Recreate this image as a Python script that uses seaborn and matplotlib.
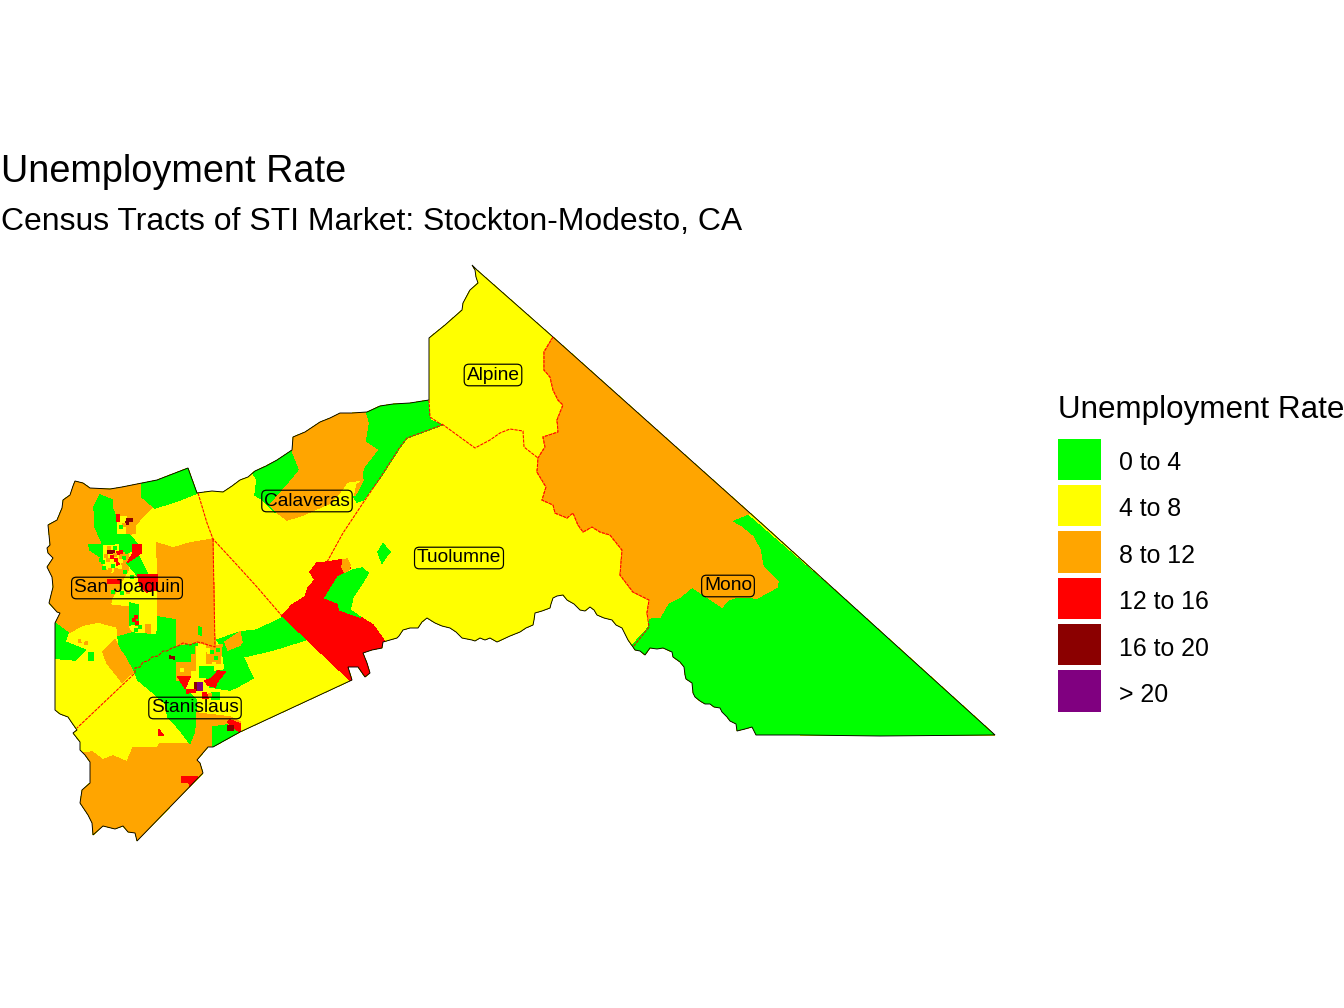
import numpy as np
import pandas as pd
import seaborn as sns
import matplotlib
matplotlib.use("Agg")
import matplotlib.pyplot as plt
from matplotlib.colors import ListedColormap
from matplotlib.patches import Polygon
from matplotlib.transforms import ScaledTranslation

# classes of the rate
rate_labels = ["0 to 4", "4 to 8", "8 to 12", "12 to 16", "16 to 20", "> 20"]
rate_colors = ["#00FF00", "#FFFF00", "#FFA500", "#FF0000", "#8B0000", "#800080"]

# map geometry, x / y in map units (y grows southwards)
market_outline = [
    (472, 265), (477, 270), (553, 337), (760, 522), (995, 735), (880, 736), (800, 735), (756, 735), (752, 727),
    (745, 729), (737, 731), (736, 724), (730, 721), (727, 717), (722, 712), (720, 708), (714, 707), (710, 704),
    (705, 704), (700, 701), (695, 697), (693, 693), (692, 683), (686, 679), (685, 675), (684, 667), (680, 662),
    (673, 657), (672, 652), (663, 648), (657, 649), (650, 648), (645, 655), (640, 651), (635, 650), (633, 647),
    (628, 640), (622, 628), (616, 625), (612, 620), (604, 618), (597, 615), (594, 610), (590, 607), (585, 611),
    (580, 610), (574, 604), (567, 600), (563, 595), (557, 596), (553, 598), (551, 604), (550, 608), (542, 611),
    (535, 613), (534, 620), (533, 625), (526, 628), (520, 632), (510, 636), (497, 642), (490, 638), (485, 640),
    (480, 638), (475, 641), (472, 640), (462, 638), (456, 632), (450, 628), (442, 626), (435, 623), (427, 618),
    (422, 622), (418, 628), (410, 628), (403, 630), (399, 636), (397, 638), (390, 640), (383, 642), (382, 648),
    (372, 650), (363, 653), (367, 663), (370, 673), (365, 677), (358, 667), (348, 667), (352, 680), (240, 732),
    (213, 747), (208, 747), (197, 760), (200, 763), (203, 773), (137, 841), (135, 833), (128, 832), (123, 826),
    (115, 829), (103, 826), (93, 835), (92, 823), (88, 815), (80, 803), (82, 790), (90, 783), (90, 762),
    (85, 755), (80, 750), (80, 742), (73, 733), (77, 730), (72, 723), (68, 717), (60, 714), (55, 710), (55, 623),
    (60, 613), (57, 612), (49, 603), (53, 587), (52, 577), (47, 567), (53, 558), (48, 553), (47, 548), (50, 545),
    (48, 525), (57, 520), (62, 508), (63, 500), (70, 495), (73, 486), (75, 481), (83, 483), (90, 488), (110, 489),
    (122, 487), (142, 483), (157, 480), (188, 468), (197, 493), (212, 491), (223, 492), (232, 486), (240, 480),
    (248, 477), (255, 471), (266, 466), (277, 460), (292, 450), (293, 437), (305, 432), (320, 422), (330, 418),
    (340, 413), (352, 413), (367, 412), (380, 406), (393, 404), (410, 403), (429, 400), (429, 338), (445, 325),
    (462, 310), (463, 303), (470, 290), (478, 283), (476, 277), (475, 270),
]
line_west_a = [(198, 493), (207, 523), (213, 539), (237, 565), (257, 587), (282, 616)]
line_west_b = [
    (213, 539), (215, 647), (208, 645), (203, 643), (197, 642), (190, 645), (183, 643), (178, 646), (172, 648),
    (167, 651), (163, 651), (158, 656), (152, 657), (148, 661), (143, 662), (140, 667), (135, 668), (135, 673),
    (77, 728),
]
line_calaveras = [(327, 562), (343, 533), (363, 503), (380, 478), (400, 447), (407, 438), (442, 425), (430, 417), (429, 400)]
line_alpine_s = [(442, 424), (475, 448), (490, 440), (500, 433), (510, 429), (523, 431), (524, 447), (538, 458)]
line_mono = [
    (553, 337), (544, 352), (544, 370), (550, 377), (553, 390), (558, 400), (563, 405), (557, 420), (558, 432),
    (543, 437), (545, 447), (538, 458), (537, 472), (546, 487), (542, 500), (553, 505), (555, 513), (567, 518),
    (573, 513), (578, 525), (583, 532), (592, 527), (600, 532), (610, 535), (622, 550), (620, 575), (633, 592),
    (649, 600), (647, 613), (649, 627), (633, 647),
]
county_lines = [line_west_a, line_west_b, line_calaveras, line_alpine_s, line_mono]

# large tracts, in drawing order
mono_green = [(730, 500), (1000, 735), (1000, 760), (620, 760), (630, 648), (649, 627), (650, 600)]
mono_orange = line_mono[:29] + [
    (648, 618), (660, 617), (668, 603), (680, 597), (692, 587), (707, 597), (722, 607), (728, 600), (737, 597),
    (757, 598), (768, 592), (777, 587), (778, 582), (763, 567), (760, 550), (753, 537), (741, 527), (730, 521),
    (750, 513), (765, 505), (553, 320),
]
calaveras_green_ne = [
    (427, 395), (430, 420), (442, 425), (407, 438), (400, 447), (380, 478), (363, 500), (357, 502), (354, 497),
    (362, 480), (363, 468), (377, 450), (365, 442), (368, 423), (365, 405), (393, 395),
]
calaveras_green_w = [
    (250, 468), (293, 445), (300, 470), (292, 480), (280, 508), (275, 512), (263, 500), (255, 495), (257, 480),
]
calaveras_orange = [
    (285, 435), (320, 415), (367, 405), (365, 413), (368, 423), (365, 442), (377, 450), (363, 468), (362, 480),
    (347, 482), (340, 492), (330, 503), (303, 515), (287, 520), (278, 513), (270, 505), (292, 480), (300, 470),
    (296, 460), (292, 450),
]
calaveras_orange_small = [(355, 495), (357, 485), (363, 480), (358, 490)]
rural_red = [
    (282, 616), (292, 605), (305, 597), (308, 588), (315, 580), (310, 572), (317, 563), (328, 562), (340, 560),
    (347, 560), (350, 568), (338, 577), (325, 598), (338, 603), (340, 610), (360, 617), (373, 625), (385, 642),
    (385, 690), (352, 682),
]
rural_orange_small = [(343, 560), (347, 559), (350, 565), (348, 572), (345, 573), (342, 567)]
rural_green = [
    (325, 598), (338, 577), (353, 570), (362, 568), (368, 573), (363, 582), (353, 597), (350, 610), (360, 617),
    (340, 610), (338, 603),
]
rural_green_small = [(383, 544), (390, 552), (385, 558), (382, 563), (378, 552)]
sj_orange_w = [
    (40, 500), (60, 470), (142, 470), (142, 497), (152, 507), (135, 525), (128, 540), (128, 570), (112, 598),
    (110, 605), (128, 607), (128, 628), (132, 633), (118, 637), (117, 627), (98, 622), (83, 625), (70, 632),
    (55, 623), (40, 620),
]
sj_green_n = [(188, 460), (197, 493), (180, 500), (155, 508), (142, 497), (142, 475)]
sj_green_city = [
    (100, 495), (112, 500), (112, 507), (115, 515), (117, 533), (128, 533), (138, 545), (133, 550), (118, 557),
    (102, 558), (90, 550), (89, 545), (103, 545), (95, 527), (94, 507),
]
sj_green_tri = [(127, 563), (138, 555), (147, 573), (137, 575)]
sj_orange_e = [
    (157, 543), (173, 548), (190, 543), (213, 539), (215, 647), (197, 642), (177, 645), (177, 620), (168, 617),
    (158, 617),
]
sj_green_small = [(192, 623), (201, 628), (201, 635), (192, 630)]
stockton_yellow = [(104, 546), (118, 545), (120, 565), (112, 572), (104, 566)]
stockton_yellow_n = [(117, 517), (126, 517), (128, 533), (118, 533)]
stockton_orange_n = [(127, 523), (135, 523), (135, 533), (127, 533)]
stockton_orange_c = [(120, 553), (124, 553), (124, 560), (120, 560)]
stockton_red_a = [(138, 575), (157, 575), (157, 590), (147, 592), (140, 585)]
stockton_red_b = [(108, 580), (120, 580), (120, 583), (108, 583)]
stockton_red_c = [(133, 545), (141, 545), (141, 553), (128, 562), (133, 553)]
sj_green_s = [(130, 603), (138, 605), (138, 625), (130, 625)]
sj_orange_s = [(146, 625), (150, 625), (150, 635), (146, 635)]
sj_green_band = [
    (118, 637), (132, 633), (157, 635), (158, 617), (177, 620), (177, 645), (167, 650), (153, 657), (140, 665),
    (135, 673), (128, 668), (125, 657), (120, 650),
]
sj_orange_sw = [(103, 652), (115, 640), (120, 650), (125, 657), (133, 672), (122, 682), (107, 663)]
sj_green_w = [(50, 620), (55, 623), (68, 633), (65, 642), (85, 650), (75, 660), (50, 658)]
sj_green_w_small = [(89, 653), (93, 653), (93, 660), (89, 660)]
st_green = [
    (135, 673), (140, 665), (153, 657), (168, 650), (177, 643), (197, 643), (197, 663), (177, 663), (178, 677),
    (187, 690), (196, 700), (196, 732), (191, 745), (180, 730), (168, 717), (165, 703), (150, 690), (138, 680),
]
st_orange_top = [(177, 620), (197, 620), (197, 642), (177, 645)]
st_orange_s = [
    (83, 753), (92, 752), (103, 760), (113, 756), (127, 762), (133, 748), (157, 748), (160, 744), (188, 744),
    (191, 745), (196, 732), (197, 713), (230, 717), (240, 722), (213, 727), (213, 750), (215, 760), (140, 850),
    (70, 850), (70, 760),
]
st_green_se = [(213, 727), (227, 725), (240, 732), (213, 747)]
st_red_se = [(230, 720), (240, 724), (240, 732), (234, 728), (228, 722)]
st_red_s = [(182, 777), (197, 777), (190, 787), (189, 782), (182, 782)]
st_red_tiny = [(159, 730), (163, 735), (159, 735)]
st_green_e = [
    (282, 618), (305, 640), (273, 650), (243, 657), (253, 678), (237, 687), (230, 690), (210, 687), (205, 673),
    (225, 670), (222, 647), (217, 640), (240, 632), (257, 630),
]
st_orange_e = [(225, 642), (240, 632), (242, 642), (240, 645), (228, 650)]
modesto_orange_n = [(196, 647), (222, 645), (220, 663), (205, 663), (205, 655), (192, 655), (192, 670), (196, 670)]
modesto_yellow_n = [(197, 647), (205, 647), (205, 667), (197, 667)]
modesto_yellow_c = [(197, 668), (205, 668), (205, 682), (195, 690), (185, 688), (185, 677), (195, 677)]
modesto_orange_w = [(177, 663), (190, 663), (190, 680), (177, 680)]
modesto_green_c = [(200, 667), (213, 667), (213, 677), (200, 677)]
modesto_red_w = [(178, 677), (190, 677), (185, 688)]
modesto_red_e = [(205, 681), (212, 678), (218, 671), (225, 672), (217, 682), (215, 687), (208, 685)]
modesto_dark_c = [(195, 683), (198, 683), (198, 690), (195, 690)]
modesto_purple = [(198, 683), (202, 683), (202, 690), (198, 690)]
modesto_red_s = [(187, 690), (195, 690), (195, 692), (187, 693)]
modesto_red_s2 = [(203, 693), (206, 693), (208, 698), (203, 698)]
modesto_green_s = [(212, 693), (219, 693), (219, 699), (212, 699)]
modesto_dark = [(170, 656), (174, 657), (174, 659), (170, 658)]
st_dark_se = [(228, 726), (233, 726), (233, 730), (228, 730)]

tracts = [
    (mono_green, 0), (mono_orange, 2), (calaveras_green_ne, 0), (calaveras_green_w, 0), (calaveras_orange, 2),
    (calaveras_orange_small, 2), (rural_red, 3), (rural_orange_small, 2), (rural_green, 0), (rural_green_small, 0),
    (sj_orange_w, 2), (sj_green_n, 0), (sj_green_city, 0), (sj_green_tri, 0), (sj_orange_e, 2), (sj_green_small, 0),
    (stockton_yellow, 1), (stockton_yellow_n, 1), (stockton_orange_n, 2), (stockton_orange_c, 2),
    (stockton_red_a, 3), (stockton_red_b, 3), (stockton_red_c, 3), (sj_green_s, 0), (sj_orange_s, 2),
    (sj_green_band, 0), (sj_orange_sw, 2), (sj_green_w, 0), (sj_green_w_small, 0),
    (st_green, 0), (st_orange_top, 2), (st_orange_s, 2), (st_green_se, 0), (st_red_se, 3), (st_red_s, 3), (st_red_tiny, 3),
    (st_green_e, 0), (st_orange_e, 2), (modesto_orange_n, 2), (modesto_yellow_n, 1), (modesto_orange_w, 2),
    (modesto_yellow_c, 1), (modesto_green_c, 0), (modesto_red_w, 3), (modesto_red_e, 3), (modesto_dark_c, 4),
    (modesto_purple, 5), (modesto_red_s, 3), (modesto_red_s2, 3), (modesto_green_s, 0), (modesto_dark, 4),
    (st_dark_se, 4),
]

# the very small city tracts
cell_x = [118, 118, 123, 128, 131, 127, 124, 121, 123, 111, 109, 113, 105, 118, 121, 115, 112, 112, 116, 118, 113,
          107, 104, 110, 116, 120, 124, 106, 108, 103, 121, 125, 128, 132, 125, 118, 113, 122, 128, 134, 136, 137,
          133, 140, 136, 147, 76, 80, 86, 83, 209, 208, 212, 216, 218, 182, 214, 210, 205, 101, 109, 115]
cell_y = [516, 520, 518, 520, 520, 523, 525, 527, 531, 552, 552, 552, 551, 553, 552, 555, 557, 561, 560, 564, 566,
          565, 568, 570, 570, 567, 558, 556, 560, 562, 561, 572, 578, 577, 585, 588, 592, 593, 592, 620, 617, 623,
          627, 627, 630, 628, 643, 641, 643, 640, 652, 650, 652, 658, 650, 670, 664, 695, 695, 560, 548, 548]
cell_class = [3, 3, 1, 4, 4, 4, 2, 0, 1, 5, 4, 4, 1, 3, 3, 2, 3, 1, 3, 3, 0,
              1, 0, 2, 2, 1, 0, 2, 2, 0, 1, 0, 1, 0, 1, 2, 0, 0, 2, 3, 3, 3,
              1, 0, 0, 2, 1, 2, 2, 1, 1, 1, 0, 0, 0, 1, 1, 2, 3, 0, 2, 0]

# county labels
county_names = ["Alpine", "Calaveras", "Tuolumne", "Mono", "San Joaquin", "Stanislaus"]
county_x = [493, 307, 459, 728, 127, 195]
county_y = [373, 499, 556, 584, 586, 706]

sns.set_theme(style="white")
plt.rcParams["font.family"] = ["Liberation Sans", "DejaVu Sans"]

fig = plt.figure(figsize=(14, 10.5), dpi=96, facecolor="white")
ax = fig.add_axes([0, 0, 1, 1])

# base tract then everything else clipped to the market shape
clip_shape = Polygon(market_outline, closed=True, transform=ax.transData, fc="none", ec="none")
ax.add_patch(clip_shape)
base = Polygon(market_outline, closed=True, fc=rate_colors[1], ec="none", antialiased=False)
ax.add_patch(base)

for pts, k in tracts:
    p = Polygon(pts, closed=True, fc=rate_colors[k], ec=rate_colors[k], lw=0.3, antialiased=False)
    ax.add_patch(p)
    p.set_clip_path(clip_shape)

cells = pd.DataFrame({"x": cell_x, "y": cell_y, "cls": cell_class})
sns.scatterplot(data=cells, x="x", y="y", hue="cls", palette=dict(enumerate(rate_colors)), marker="s", s=9,
                linewidth=0, legend=False, ax=ax)

for line in county_lines:
    xy = np.array(line)
    ax.plot(xy[:, 0], xy[:, 1], color="#FF0000", lw=0.8, ls=(0, (3, 1)))

ax.add_patch(Polygon(market_outline, closed=True, fc="none", ec="black", lw=0.7))

for name, x, y in zip(county_names, county_x, county_y):
    ax.text(x, y, name, fontsize=14.3, color="black", ha="center", va="center_baseline",
            bbox=dict(boxstyle="round,pad=0.12,rounding_size=0.25", fc="none", ec="black", lw=0.9))

ax.set_xlim(0, 1344)
ax.set_ylim(1008, 0)
ax.set_axis_off()

# titles
fig.text(1 / 1344, 1 - 182 / 1008, "Unemployment Rate", fontsize=28.4, color="black", ha="left", va="baseline")
fig.text(1 / 1344, 1 - 230 / 1008, "Census Tracts of STI Market: Stockton-Modesto, CA", fontsize=23.9,
         color="black", ha="left", va="baseline")

# legend
leg_ax = fig.add_axes([1055 / 1344, 1 - 713.5 / 1008, 48 / 1344, 278 / 1008])
sns.heatmap(np.arange(6).reshape(6, 1), cmap=ListedColormap(rate_colors), cbar=False, linewidths=2.4,
            linecolor="white", xticklabels=False, yticklabels=rate_labels, ax=leg_ax)
leg_ax.yaxis.tick_right()
leg_ax.tick_params(axis="y", length=0, pad=12, labelsize=18.7, labelrotation=0, colors="black")
for lab in leg_ax.get_yticklabels():
    lab.set_transform(lab.get_transform() + ScaledTranslation(0, -2 / 96, fig.dpi_scale_trans))
fig.text(1058 / 1344, 1 - 418 / 1008, "Unemployment Rate", fontsize=23.5, color="black", ha="left", va="baseline")

fig.savefig("out.png", dpi=96)
